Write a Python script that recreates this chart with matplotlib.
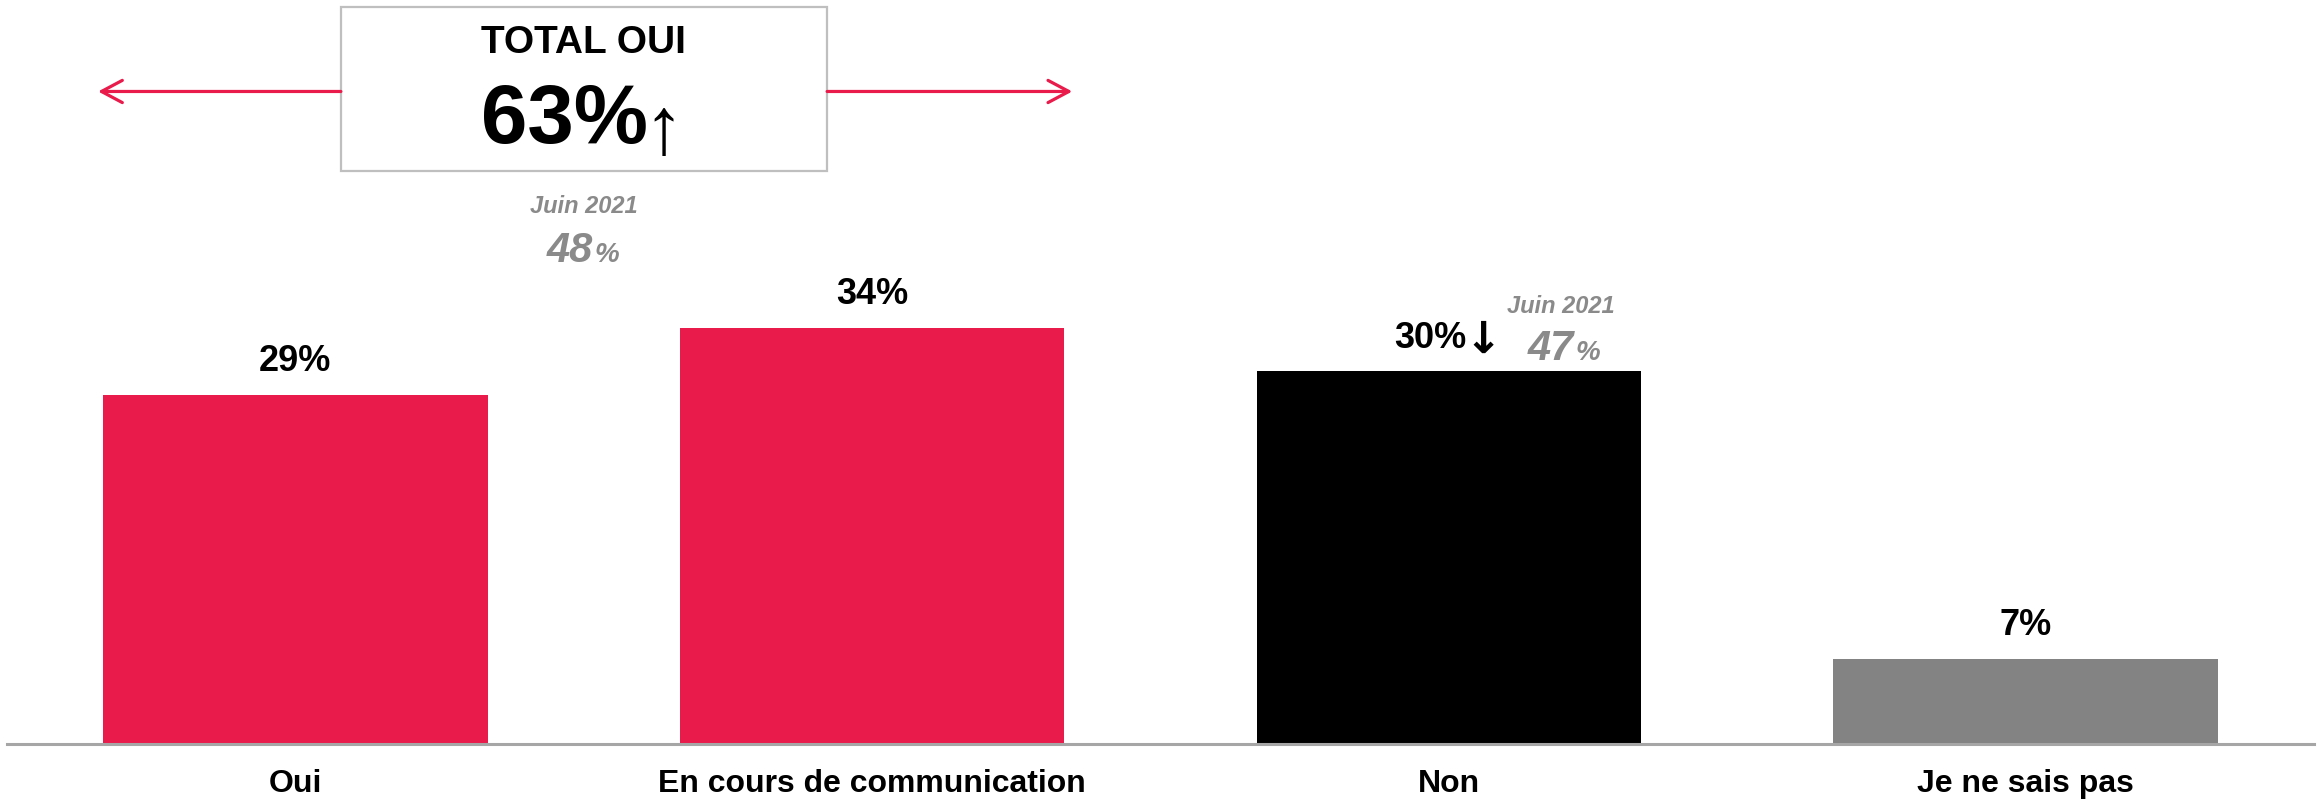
import matplotlib.pyplot as plt

categories = ["Oui", "En cours de communication", "Non", "Je ne sais pas"]
# bar heights (printed labels are rounded)
values = [28.6, 34.1, 30.6, 7.0]
value_labels = ["29%", "34%", "30%", "7%"]
trend_marks = ["", "", "\u2193", ""]
bar_colors = ["#E81B4B", "#E81B4B", "#000000", "#838383"]

total_label = "TOTAL OUI"
total_value = "63%"
prev_label = "Juin 2021"
prev_total = "48"
prev_non = "47"

RED = "#E81B4B"
GREY_TXT = "#8A8A8A"
FONT = "Liberation Sans"

fig = plt.figure(figsize=(23.21, 8.02), dpi=100)
ax = fig.add_axes([0.003, 0.0723, 0.994, 0.9277])

x = list(range(len(categories)))
ax.bar(x, values, width=0.667, color=bar_colors, zorder=2)

for xi, v, lab, mark in zip(x, values, value_labels, trend_marks):
    if mark:
        ax.annotate(lab, (xi + 0.031, v), xytext=(0, 16.5), textcoords="offset points",
                    ha="right", va="baseline", fontsize=26, fontweight="bold",
                    family=FONT, color="black")
        ax.annotate(mark, (xi + 0.027, v), xytext=(0, 13), textcoords="offset points",
                    ha="left", va="baseline", fontsize=32, fontweight="bold",
                    family="DejaVu Sans", color="black")
    else:
        ax.annotate(lab, (xi, v), xytext=(0, 24), textcoords="offset points",
                    ha="center", va="center", fontsize=26, fontweight="bold",
                    family=FONT, color="black")

ax.set_xlim(-0.5, 3.5)
ax.set_ylim(0, 61)
ax.set_xticks(x)
ax.set_xticklabels(categories, fontsize=23, fontweight="bold", family=FONT)
ax.tick_params(axis="x", length=0, pad=18)
ax.set_yticks([])
for side in ["top", "right", "left"]:
    ax.spines[side].set_visible(False)
ax.spines["bottom"].set_color("#A6A6A6")
ax.spines["bottom"].set_linewidth(2.2)

# total box with red arrows
box_l, box_r, box_b, box_t = 0.079, 0.922, 47.0, 60.4
ax.add_patch(plt.Rectangle((box_l, box_b), box_r - box_l, box_t - box_b,
                           fill=False, edgecolor="#BFBFBF", linewidth=1.6,
                           clip_on=False, zorder=3))
arrow_y = 53.5
head = "->,head_length=1.5,head_width=0.8"
ax.annotate("", xy=(-0.342, arrow_y), xytext=(box_l, arrow_y),
            arrowprops=dict(arrowstyle=head, color=RED, lw=2.3,
                            shrinkA=0, shrinkB=0))
ax.annotate("", xy=(1.347, arrow_y), xytext=(box_r, arrow_y),
            arrowprops=dict(arrowstyle=head, color=RED, lw=2.3,
                            shrinkA=0, shrinkB=0))

ax.text(0.5, 57.5, total_label, ha="center", va="center", fontsize=28,
        fontweight="bold", family=FONT)
ax.text(0.611, 49.3, total_value, ha="right", va="baseline", fontsize=60,
        fontweight="bold", family=FONT)
ax.text(0.604, 48.4, "\u2191", ha="left", va="baseline", fontsize=58,
        family=FONT)

# previous wave (Juin 2021) reminders
ax.text(0.5, 43.5, prev_label, ha="center", va="baseline", fontsize=17,
        fontweight="bold", style="italic", family=FONT, color=GREY_TXT)
ax.text(0.516, 39.5, prev_total, ha="right", va="baseline", fontsize=30,
        fontweight="bold", style="italic", family=FONT, color=GREY_TXT)
ax.text(0.518, 39.5, "%", ha="left", va="baseline", fontsize=20,
        fontweight="bold", style="italic", family=FONT, color=GREY_TXT)

ax.text(2.194, 35.3, prev_label, ha="center", va="baseline", fontsize=17,
        fontweight="bold", style="italic", family=FONT, color=GREY_TXT)
ax.text(2.217, 31.5, prev_non, ha="right", va="baseline", fontsize=30,
        fontweight="bold", style="italic", family=FONT, color=GREY_TXT)
ax.text(2.219, 31.5, "%", ha="left", va="baseline", fontsize=20,
        fontweight="bold", style="italic", family=FONT, color=GREY_TXT)

fig.savefig("out.png", dpi=100)
